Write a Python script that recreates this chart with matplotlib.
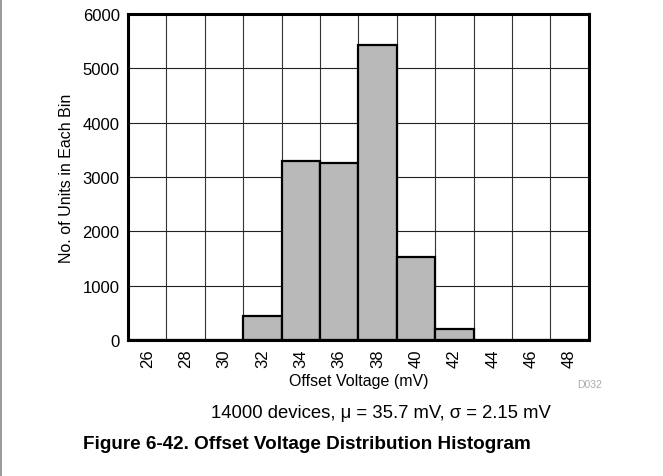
import matplotlib
matplotlib.use('Agg')
from matplotlib import pyplot as plt
from matplotlib.lines import Line2D

plt.rcParams['font.family'] = ['Liberation Sans', 'DejaVu Sans']

# 直方图数据（每个 2 mV 区间的器件数量）
bin_centers = [26, 28, 30, 32, 34, 36, 38, 40, 42, 44, 46, 48]
unit_counts = [0, 0, 5, 450, 3290, 3260, 5420, 1520, 210, 10, 0, 0]
bin_width = 2
y_ticks = [0, 1000, 2000, 3000, 4000, 5000, 6000]


def draw_histogram():
    fig = plt.figure(figsize=(6.63, 4.77), dpi=100)
    ax = fig.add_axes([0.193, 0.285, 0.695, 0.684])

    ax.bar(bin_centers, unit_counts, width=bin_width, color='#b9b9b9',
           edgecolor='black', linewidth=1.6, zorder=3)

    ax.set_xlim(bin_centers[0] - bin_width / 2, bin_centers[-1] + bin_width / 2)
    ax.set_ylim(0, 6000)
    ax.set_yticks(y_ticks)
    ax.set_xticks(bin_centers)
    ax.set_xticklabels([str(v) for v in bin_centers], rotation=90)
    ax.tick_params(length=0, labelsize=12, pad=6)

    # 网格：纵线画在区间边界上
    for edge in bin_centers[:-1]:
        ax.axvline(edge + bin_width / 2, color='#333333', linewidth=0.8,
                   zorder=1)
    for y in y_ticks[1:-1]:
        ax.axhline(y, color='#222222', linewidth=0.8, zorder=1)

    for sp in ax.spines.values():
        sp.set_linewidth(2.2)
        sp.set_zorder(4)

    ax.set_xlabel('Offset Voltage (mV)', fontsize=11.5, labelpad=4)
    ax.set_ylabel('No. of Units in Each Bin', fontsize=11.5, labelpad=6)

    fig.text(0.889, 0.193, 'D032', color='#aaaaaa', fontsize=7.5,
             ha='center', va='center')
    fig.text(0.575, 0.134, '14000 devices, \u03bc = 35.7 mV, \u03c3 = 2.15 mV',
             fontsize=13.3, ha='center', va='center')
    fig.text(0.463, 0.069, 'Figure 6-42. Offset Voltage Distribution Histogram',
             fontsize=13.6, fontweight='bold', ha='center', va='center')

    fig.add_artist(Line2D([0.002, 0.002], [0, 1], color='#888888',
                          linewidth=1.2, transform=fig.transFigure))

    fig.savefig('out.png', dpi=100, facecolor='white')


if __name__ == "__main__":
    draw_histogram()
